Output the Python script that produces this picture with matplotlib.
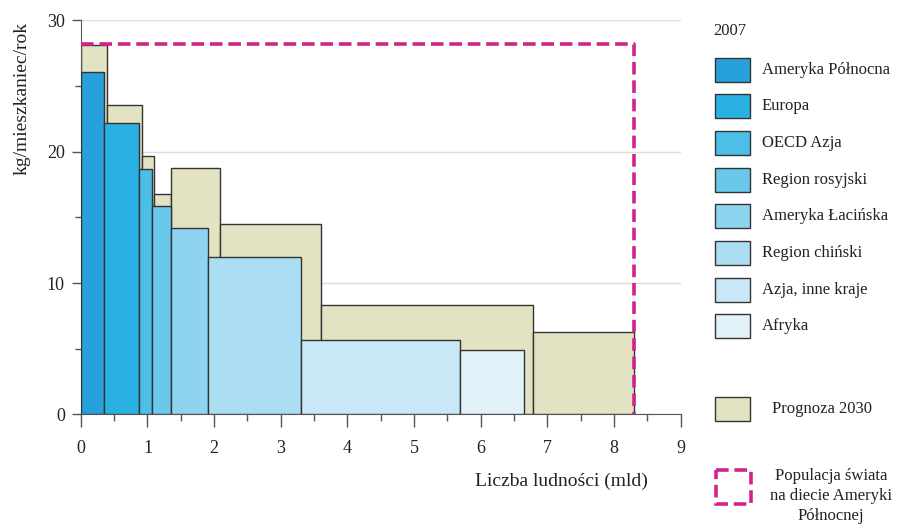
import matplotlib.pyplot as plt
from matplotlib.patches import Rectangle
from matplotlib.ticker import MultipleLocator

plt.rcParams['font.family'] = ['Liberation Serif', 'DejaVu Serif']

# 2007: regions, population edges (mld) and consumption (kg/person/year)
regions = ['Ameryka Północna', 'Europa', 'OECD Azja', 'Region rosyjski',
           'Ameryka Łacińska', 'Region chiński', 'Azja, inne kraje', 'Afryka']
edges_2007 = [0, 0.345, 0.875, 1.075, 1.355, 1.915, 3.30, 5.685, 6.65]
values_2007 = [26.1, 22.2, 18.7, 15.9, 14.2, 12.0, 5.7, 4.9]
colors_2007 = ['#27a1db', '#2ab1e3', '#4bbfe8', '#6ac8eb',
               '#8ed4f0', '#acdef3', '#c9e8f7', '#e1f2f9']

# 2030 forecast
edges_2030 = [0, 0.40, 0.92, 1.10, 1.36, 2.09, 3.61, 6.78, 8.30]
values_2030 = [28.1, 23.6, 19.7, 16.8, 18.8, 14.5, 8.35, 6.3]

# world population on North American diet
world_pop = 8.30
na_diet = 28.2

forecast_color = '#e3e3c4'
dash_color = '#d0248a'
edge = '#333333'
txt = '#222222'

fig = plt.figure(figsize=(8.98, 5.25), dpi=100)
ax = fig.add_axes([0.090, 0.2105, 0.668, 0.7505])

w30 = [b - a for a, b in zip(edges_2030[:-1], edges_2030[1:])]
ax.bar(edges_2030[:-1], values_2030, width=w30, align='edge',
       color=forecast_color, edgecolor=edge, linewidth=1, zorder=2)

w07 = [b - a for a, b in zip(edges_2007[:-1], edges_2007[1:])]
ax.bar(edges_2007[:-1], values_2007, width=w07, align='edge',
       color=colors_2007, edgecolor=edge, linewidth=1, zorder=3)

ax.plot([0, world_pop, world_pop], [na_diet, na_diet, 0], color=dash_color,
        linewidth=2.6, linestyle=(0, (3.5, 1.6)), zorder=4, clip_on=False)

ax.set_xlim(0, 9)
ax.set_ylim(0, 30)
ax.xaxis.set_major_locator(MultipleLocator(1))
ax.xaxis.set_minor_locator(MultipleLocator(0.5))
ax.yaxis.set_major_locator(MultipleLocator(10))
ax.yaxis.set_minor_locator(MultipleLocator(5))
ax.tick_params(which='both', width=1, color='#555555',
               labelsize=13, labelcolor=txt)
ax.tick_params(axis='x', which='major', length=9.5, pad=9)
ax.tick_params(axis='x', which='minor', length=5)
ax.tick_params(axis='y', which='major', length=6.5, pad=5)
ax.tick_params(axis='y', which='minor', length=4.5)
for s in ['top', 'right']:
    ax.spines[s].set_visible(False)
for s in ['left', 'bottom']:
    ax.spines[s].set_color('#555555')
ax.grid(axis='y', color='#dddddd', linewidth=1, zorder=0)
ax.set_axisbelow(True)

fig.text(561 / 898, 1 - 481 / 525, 'Liczba ludności (mld)', ha='center',
         va='center', fontsize=14, color=txt)
fig.text(22 / 898, 1 - 98 / 525, 'kg/mieszkaniec/rok', ha='center',
         va='center', rotation=90, fontsize=14, color=txt)

# legend drawn in pixel coordinates
lax = fig.add_axes([0, 0, 1, 1])
lax.set_xlim(0, 898)
lax.set_ylim(525, 0)
lax.axis('off')
lax.text(713, 31, '2007', fontsize=12, va='center', color=txt)
for i, (name, c) in enumerate(zip(regions, colors_2007)):
    yc = 69.5 + i * 36.7
    lax.add_patch(Rectangle((715, yc - 12), 35, 24, facecolor=c,
                            edgecolor=edge, linewidth=1))
    lax.text(762, yc, name, fontsize=12, va='center', color=txt)
lax.add_patch(Rectangle((715, 397), 35, 24, facecolor=forecast_color,
                        edgecolor=edge, linewidth=1))
lax.text(772, 409, 'Prognoza 2030', fontsize=12, va='center', color=txt)
lax.add_patch(Rectangle((716, 470), 35, 34, facecolor='none',
                        edgecolor=dash_color, linewidth=2.6,
                        linestyle=(0, (3.5, 1.6))))
lax.text(831, 496, 'Populacja świata\nna diecie Ameryki\nPółnocnej',
         fontsize=12, ha='center', va='center', linespacing=1.35,
         color=txt)

fig.savefig('out.png', dpi=100)
